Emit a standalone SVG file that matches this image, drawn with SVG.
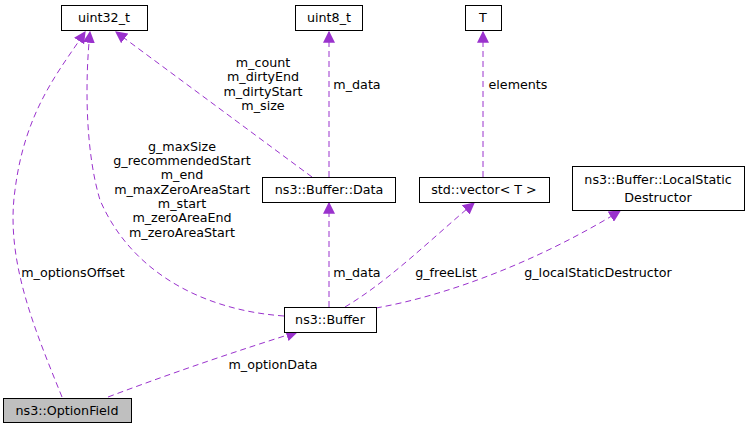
<svg xmlns="http://www.w3.org/2000/svg" width="749" height="429" viewBox="0 0 749 429">
<style>
.n rect{fill:#fff;stroke:#000;stroke-width:1}
text{font-family:"DejaVu Sans",sans-serif;font-size:12.7px;fill:#000;text-anchor:middle}
.e path{fill:none;stroke:#9a32cd;stroke-dasharray:6,4}
</style>
<defs><marker id="a" viewBox="0 0 10 10" refX="9" refY="5" markerWidth="12" markerHeight="12" markerUnits="userSpaceOnUse" orient="auto"><path d="M0,0L10,5L0,10z" fill="#9a32cd"/></marker></defs>
<rect width="749" height="429" fill="#fff"/>
<g class="e">
<path d="M62,397C35,330 5,260 15,190C25,110 60,70 85,32" marker-end="url(#a)"/>
<path d="M284,316C200,310 130,270 100,200C85,150 85,80 90,32" marker-end="url(#a)"/>
<path d="M312,177L116,32" marker-end="url(#a)"/>
<path d="M329,177L329,32" marker-end="url(#a)"/>
<path d="M483,177L483,32" marker-end="url(#a)"/>
<path d="M329,307L329,203" marker-end="url(#a)"/>
<path d="M345,307C390,280 430,240 474,203" marker-end="url(#a)"/>
<path d="M376,308C450,295 540,260 620,211" marker-end="url(#a)"/>
<path d="M108,397C180,370 240,350 297,332" marker-end="url(#a)"/>
</g>
<g id="uint32"><g class="n"><rect x="61.5" y="5.5" width="86" height="25"/></g><text x="104" y="22">uint32_t</text></g>
<g id="uint8"><g class="n"><rect x="295.5" y="5.5" width="67" height="25"/></g><text x="329" y="22">uint8_t</text></g>
<g id="T"><g class="n"><rect x="465.5" y="5.5" width="36" height="25"/></g><text x="483" y="22">T</text></g>
<g id="data"><g class="n"><rect x="262.5" y="177.5" width="133" height="25"/></g><text x="329" y="194">ns3::Buffer::Data</text></g>
<g id="vector"><g class="n"><rect x="419.5" y="177.5" width="130" height="25"/></g><text x="484" y="194">std::vector&lt; T &gt;</text></g>
<g id="lsd"><g class="n"><rect x="572.5" y="166.5" width="172" height="44"/></g><text x="658" y="184">ns3::Buffer::LocalStatic</text><text x="658" y="202">Destructor</text></g>
<g id="buffer"><g class="n"><rect x="284.5" y="307.5" width="92" height="25"/></g><text x="330" y="324">ns3::Buffer</text></g>
<g id="opt"><g class="n"><rect x="3.5" y="398.5" width="128" height="24" style="fill:#bfbfbf"/></g><text x="67" y="415">ns3::OptionField</text></g>
<g id="labels">
<text x="263" y="67">m_count</text><text x="263" y="81">m_dirtyEnd</text><text x="263" y="96">m_dirtyStart</text><text x="263" y="110">m_size</text>
<text x="357" y="89">m_data</text>
<text x="518" y="89">elements</text>
<text x="182" y="151">g_maxSize</text><text x="182" y="165">g_recommendedStart</text><text x="182" y="179">m_end</text><text x="182" y="194">m_maxZeroAreaStart</text><text x="182" y="208">m_start</text><text x="182" y="222">m_zeroAreaEnd</text><text x="182" y="237">m_zeroAreaStart</text>
<text x="73" y="277">m_optionsOffset</text>
<text x="357" y="277">m_data</text>
<text x="446" y="277">g_freeList</text>
<text x="598" y="277">g_localStaticDestructor</text>
<text x="273" y="369">m_optionData</text>
</g>
</svg>
